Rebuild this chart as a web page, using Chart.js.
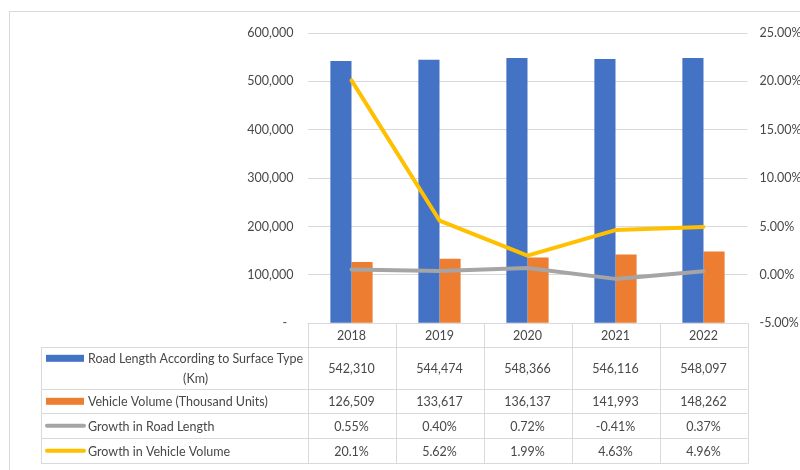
<!DOCTYPE html>
<html>
<head>
<meta charset="utf-8">
<title>Road Length and Vehicle Volume 2018-2022</title>
<script src="https://cdn.jsdelivr.net/npm/chart.js@4.4.1/dist/chart.umd.min.js"></script>
<style>
    body { margin: 0; background: #ffffff; }
    canvas { display: block; }
</style>
</head>
<body>
<canvas id="roadChart" width="800" height="470"></canvas>
<script>
const years = ['2018', '2019', '2020', '2021', '2022'];
const roadLength = [542310, 544474, 548366, 546116, 548097];
const vehicleVolume = [126509, 133617, 136137, 141993, 148262];
const roadGrowth = [0.55, 0.40, 0.72, -0.41, 0.37];
const vehicleGrowth = [20.1, 5.62, 1.99, 4.63, 4.96];
const roadGrowthLabels = ['0.55%', '0.40%', '0.72%', '-0.41%', '0.37%'];
const vehicleGrowthLabels = ['20.1%', '5.62%', '1.99%', '4.63%', '4.96%'];

const seriesNames = [
    ['Road Length According to Surface Type', '(Km)'],
    ['Vehicle Volume (Thousand Units)'],
    ['Growth in Road Length'],
    ['Growth in Vehicle Volume']
];
const seriesColors = ['#4472C4', '#ED7D31', '#A5A5A5', '#FFC000'];

const FONT = 'Lato, "Liberation Sans", sans-serif';
const TEXT = '#484848';
const LINES = '#D9D9D9';

// table rows, as text, built from the arrays above
const tableRows = [
    roadLength.map(v => v.toLocaleString('en-US')),
    vehicleVolume.map(v => v.toLocaleString('en-US')),
    roadGrowthLabels,
    vehicleGrowthLabels
];

const dataTablePlugin = {
    id: 'dataTable',
    beforeDraw(chart) {
        const ctx = chart.ctx;
        ctx.save();
        ctx.strokeStyle = LINES;
        ctx.lineWidth = 1;
        ctx.strokeRect(9.5, 11.5, 820, 480); // outer chart frame
        ctx.restore();
    },
    afterDraw(chart) {
        const ctx = chart.ctx;
        const area = chart.chartArea;
        const xs = chart.scales.x;
        const colW = (area.right - area.left) / years.length;
        const tableLeft = 41;
        const rowHeights = [24, 42, 24, 25, 25];

        let tops = [area.bottom];
        rowHeights.forEach(h => tops.push(tops[tops.length - 1] + h));

        ctx.save();
        ctx.strokeStyle = LINES;
        ctx.lineWidth = 1;

        // horizontal lines
        ctx.beginPath();
        ctx.moveTo(area.left, Math.round(tops[0]) + 0.5);
        ctx.lineTo(area.right, Math.round(tops[0]) + 0.5);
        for (let i = 1; i < tops.length; i++) {
            const y = Math.round(tops[i]) + 0.5;
            ctx.moveTo(tableLeft, y);
            ctx.lineTo(area.right, y);
        }
        // vertical lines
        ctx.moveTo(tableLeft + 0.5, Math.round(tops[1]));
        ctx.lineTo(tableLeft + 0.5, Math.round(tops[tops.length - 1]) + 1);
        for (let i = 0; i <= years.length; i++) {
            const x = Math.round(area.left + i * colW) + 0.5;
            ctx.moveTo(x, Math.round(tops[0]));
            ctx.lineTo(x, Math.round(tops[tops.length - 1]) + 1);
        }
        ctx.stroke();

        ctx.fillStyle = TEXT;
        ctx.font = '12.5px ' + FONT;
        ctx.textAlign = 'center';
        ctx.textBaseline = 'middle';

        // header: years
        years.forEach((yr, i) => {
            ctx.fillText(yr, xs.getPixelForValue(i), (tops[0] + tops[1]) / 2 + 1);
        });

        // value rows
        tableRows.forEach((row, r) => {
            const mid = (tops[r + 1] + tops[r + 2]) / 2 + 1;
            row.forEach((txt, i) => {
                ctx.fillText(txt, xs.getPixelForValue(i), mid);
            });
        });

        // series names with legend keys (first line left aligned, wrapped line centred under it)
        const textLeft = 88;
        seriesNames.forEach((lines, r) => {
            const top = tops[r + 1];
            const h = rowHeights[r + 1];
            const firstY = lines.length > 1 ? top + 12 : top + h / 2 + 1;
            ctx.textAlign = 'left';
            ctx.fillText(lines[0], textLeft, firstY);
            if (lines.length > 1) {
                const w = ctx.measureText(lines[0]).width;
                ctx.textAlign = 'center';
                lines.slice(1).forEach((ln, k) => {
                    ctx.fillText(ln, textLeft + w / 2, firstY + (k + 1) * 20);
                });
            }
            const keyY = firstY - 1;
            if (r < 2) {
                ctx.fillStyle = seriesColors[r];
                ctx.fillRect(46, keyY - 3.5, 38, 7);
                ctx.fillStyle = TEXT;
            } else {
                ctx.strokeStyle = seriesColors[r];
                ctx.lineWidth = 4;
                ctx.lineCap = 'round';
                ctx.beginPath();
                ctx.moveTo(47, keyY);
                ctx.lineTo(84, keyY);
                ctx.stroke();
            }
        });
        ctx.restore();
    }
};

new Chart(document.getElementById('roadChart'), {
    type: 'bar',
    data: {
        labels: years,
        datasets: [
            {
                type: 'line',
                label: 'Growth in Vehicle Volume',
                data: vehicleGrowth,
                yAxisID: 'y1',
                borderColor: seriesColors[3],
                borderWidth: 4,
                pointRadius: 0,
                borderCapStyle: 'round',
                borderJoinStyle: 'round',
                tension: 0,
                order: 0
            },
            {
                type: 'line',
                label: 'Growth in Road Length',
                data: roadGrowth,
                yAxisID: 'y1',
                borderColor: seriesColors[2],
                borderWidth: 4,
                pointRadius: 0,
                borderCapStyle: 'round',
                borderJoinStyle: 'round',
                tension: 0,
                order: 1
            },
            {
                label: 'Road Length According to Surface Type (Km)',
                data: roadLength,
                yAxisID: 'y',
                backgroundColor: seriesColors[0],
                categoryPercentage: 0.48,
                barPercentage: 1,
                order: 2
            },
            {
                label: 'Vehicle Volume (Thousand Units)',
                data: vehicleVolume,
                yAxisID: 'y',
                backgroundColor: seriesColors[1],
                categoryPercentage: 0.48,
                barPercentage: 1,
                order: 2
            }
        ]
    },
    options: {
        responsive: false,
        animation: false,
        layout: {
            autoPadding: false,
            padding: { left: 200, right: 0, top: 33, bottom: 146.7 }
        },
        plugins: {
            legend: { display: false },
            title: { display: false },
            tooltip: { enabled: false }
        },
        scales: {
            x: {
                display: false,
                offset: true
            },
            y: {
                position: 'left',
                min: 0,
                max: 600000,
                afterFit(scale) { scale.width = 107.5; },
                ticks: {
                    stepSize: 100000,
                    padding: 14,
                    color: TEXT,
                    font: { family: FONT, size: 12.5 },
                    callback: v => v === 0 ? '-  ' : v.toLocaleString('en-US')
                },
                grid: { color: LINES, drawTicks: false },
                border: { display: false }
            },
            y1: {
                position: 'right',
                min: -5,
                max: 25,
                afterFit(scale) { scale.width = 52.5; },
                ticks: {
                    stepSize: 5,
                    padding: 12,
                    color: TEXT,
                    font: { family: FONT, size: 12.5 },
                    callback: v => v.toFixed(2) + '%'
                },
                grid: { display: false, drawTicks: false },
                border: { display: false }
            }
        }
    },
    plugins: [dataTablePlugin]
});
</script>
</body>
</html>
